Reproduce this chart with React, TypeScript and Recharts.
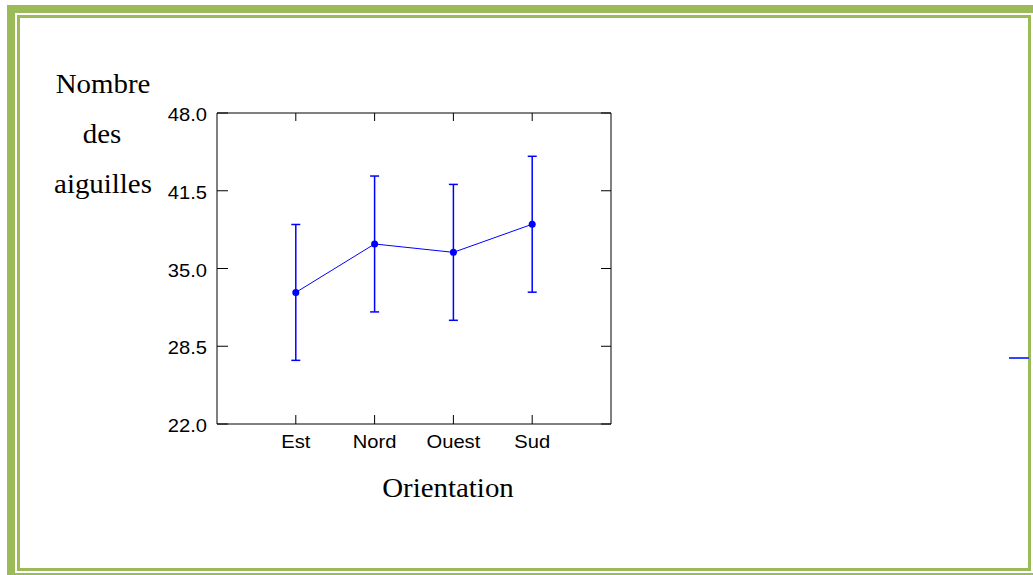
import React from 'react'
import { LineChart, Line, XAxis, YAxis, ErrorBar } from 'recharts'

// mean number of needles per orientation, with its error margin
const ORIENTATIONS = ['Est', 'Nord', 'Ouest', 'Sud']
const X_POSITIONS = [1, 2, 3, 4]
const MEAN_NEEDLES = [33.0, 37.05, 36.35, 38.7]
const ERROR_NEEDLES = [5.68, 5.68, 5.68, 5.68]
const Y_TICKS = [22, 28.5, 35, 41.5, 48]

const data = ORIENTATIONS.map((name, i) => ({
  pos: X_POSITIONS[i],
  name,
  mean: MEAN_NEEDLES[i],
  err: ERROR_NEEDLES[i],
}))

const BLUE = '#0000ff'
const GREEN = '#9bbb59'
const TICK_FONT = '"Liberation Sans", Arial, sans-serif'
const TITLE_FONT = '"Liberation Serif", "Times New Roman", serif'

// ticks are drawn inside the frame, so lines and labels are custom
function BottomTick({ x, y, payload }: any) {
  const label = ORIENTATIONS[X_POSITIONS.indexOf(payload.value)] ?? ''
  return (
    <g>
      <line x1={x} y1={y} x2={x} y2={y - 9} stroke="#000" />
      <text
        transform={`translate(${x},${y + 24}) scale(1.12,1)`}
        textAnchor="middle"
        fontSize={18}
        fontFamily={TICK_FONT}
        fill="#000"
      >
        {label}
      </text>
    </g>
  )
}

function TopTick({ x, y }: any) {
  return <line x1={x} y1={y} x2={x} y2={y + 8} stroke="#000" />
}

function LeftTick({ x, y, payload }: any) {
  return (
    <g>
      <line x1={x} y1={y} x2={x + 11} y2={y} stroke="#000" />
      <text
        transform={`translate(${x - 10},${y + 8}) scale(1.12,1)`}
        textAnchor="end"
        fontSize={18}
        fontFamily={TICK_FONT}
        fill="#000"
      >
        {Number(payload.value).toFixed(1)}
      </text>
    </g>
  )
}

function RightTick({ x, y }: any) {
  return <line x1={x} y1={y} x2={x - 10} y2={y} stroke="#000" />
}

const band = (style: React.CSSProperties): React.CSSProperties => ({
  position: 'absolute',
  background: GREEN,
  ...style,
})

export default function App() {
  return (
    <div
      style={{
        position: 'fixed',
        left: 0,
        top: 0,
        width: 1033,
        height: 575,
        background: '#fff',
        overflow: 'hidden',
      }}
    >
      {/* page border */}
      <div style={band({ left: 7, top: 5, width: 1026, height: 8 })} />
      <div style={band({ left: 7, top: 5, width: 8, height: 570 })} />
      <div
        style={{
          position: 'absolute',
          left: 17,
          top: 15,
          width: 1008,
          height: 550,
          border: `3px solid ${GREEN}`,
        }}
      />
      <div style={band({ left: 15, top: 573, width: 1018, height: 2 })} />
      <div style={{ position: 'absolute', left: 1009, top: 357, width: 20, height: 2, background: '#3344ff' }} />

      <LineChart
        width={700}
        height={500}
        data={data}
        margin={{ top: 112, right: 79, bottom: 16, left: 157 }}
        style={{ position: 'absolute', left: 0, top: 0 }}
      >
        <XAxis
          dataKey="pos"
          type="number"
          domain={[0, 5]}
          allowDataOverflow
          ticks={X_POSITIONS}
          height={60}
          tickSize={0}
          tickMargin={0}
          tickLine={false}
          axisLine={{ stroke: '#000' }}
          tick={<BottomTick />}
        />
        <XAxis
          xAxisId="top"
          dataKey="pos"
          orientation="top"
          type="number"
          domain={[0, 5]}
          allowDataOverflow
          ticks={X_POSITIONS}
          height={1}
          tickSize={0}
          tickMargin={0}
          tickLine={false}
          axisLine={{ stroke: '#000' }}
          tick={<TopTick />}
        />
        <YAxis
          type="number"
          domain={[22, 48]}
          ticks={Y_TICKS}
          allowDataOverflow
          width={60}
          tickSize={0}
          tickMargin={0}
          tickLine={false}
          axisLine={{ stroke: '#000' }}
          tick={<LeftTick />}
        />
        <YAxis
          yAxisId="right"
          dataKey="mean"
          orientation="right"
          type="number"
          domain={[22, 48]}
          allowDataOverflow
          ticks={Y_TICKS}
          width={10}
          tickSize={0}
          tickMargin={0}
          tickLine={false}
          axisLine={{ stroke: '#000' }}
          tick={<RightTick />}
        />
        <Line
          dataKey="mean"
          stroke={BLUE}
          strokeWidth={1}
          dot={{ r: 3.5, fill: BLUE, stroke: BLUE, strokeWidth: 0 }}
          isAnimationActive={false}
        >
          <ErrorBar dataKey="err" direction="y" width={4.5} stroke={BLUE} strokeWidth={1.5} isAnimationActive={false} />
        </Line>
      </LineChart>

      {/* axis titles */}
      <svg width={1033} height={575} style={{ position: 'absolute', left: 0, top: 0, pointerEvents: 'none' }}>
        <g fontFamily={TITLE_FONT} fontSize={27} fill="#000" textAnchor="middle">
          <text transform="translate(103,93) scale(1.07,1)">Nombre</text>
          <text transform="translate(102,143) scale(1.07,1)">des</text>
          <text transform="translate(103,193) scale(1.07,1)">aiguilles</text>
          <text transform="translate(448,497) scale(1.07,1)">Orientation</text>
        </g>
      </svg>
    </div>
  )
}
